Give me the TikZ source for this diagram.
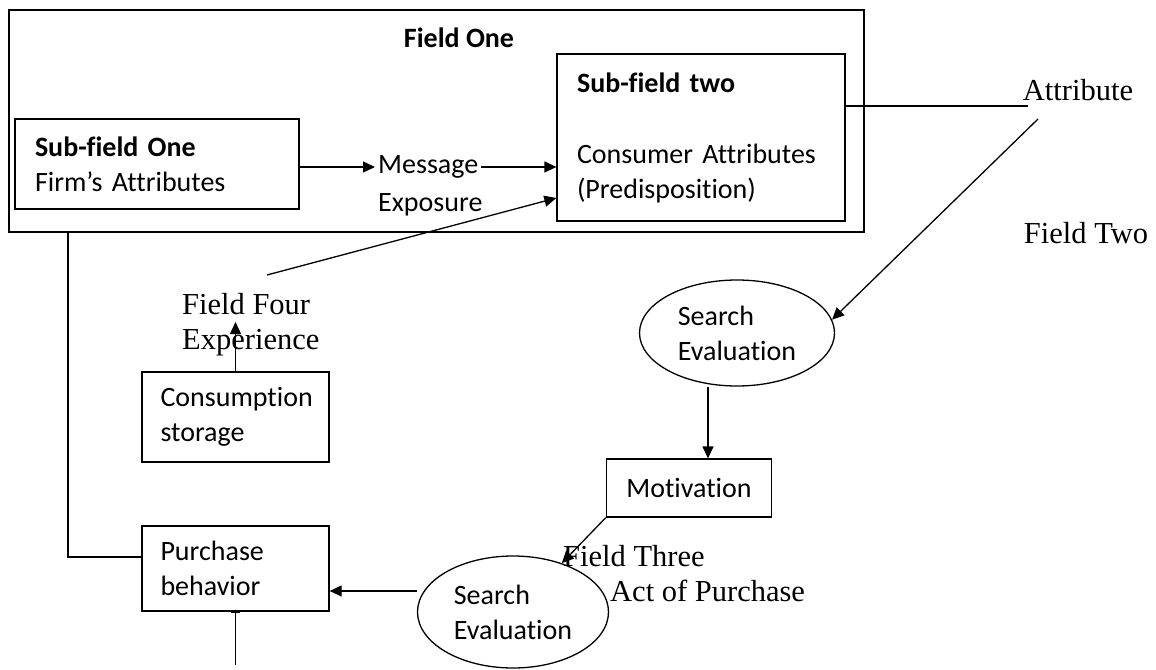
\documentclass[tikz,border=0pt]{standalone}
\usepackage{fontspec}
\setmainfont{Liberation Serif}
\newfontfamily\calibri[Ligatures=NoCommon]{Carlito}
\usetikzlibrary{shapes.geometric,arrows.meta}
\hyphenpenalty=10000
\exhyphenpenalty=10000

\begin{document}
\begin{tikzpicture}[x=1pt,y=-1pt]
		\tikzset{box/.style = {draw, line width=1.3pt, inner xsep=20pt, inner ysep=0pt, align=left, font=\calibri\fontsize{28}{35}\selectfont},
		oval/.style = {ellipse, draw, line width=1.3pt, inner sep=0pt, align=left, font=\calibri\fontsize{28}{35}\selectfont},
		txt/.style = {inner sep=3pt, font=\calibri\fontsize{28}{35}\selectfont},
		tag/.style = {inner sep=0pt, align=left, font=\fontsize{30.5}{35}\selectfont},
		arr/.style = {line width=1.3pt, -{Triangle[length=12pt,width=11pt]}},
		link/.style = {line width=1.3pt}}

		\useasboundingbox (0,0) rectangle (1156,669);

		\node[draw, line width=1.3pt, minimum width=855pt, minimum height=222pt] (fieldone) at (436.5,121) {};
		\node[txt] (fieldonelbl) at (459,38) {\textbf{Field One}};

		\node[box, text width=244pt, minimum height=90pt] (subone) at (157,164) {\textbf{Sub-field One}\\Firm’s Attributes};
		\node[box, text width=248pt, minimum height=167pt] (subtwo) at (701,137.5) {\textbf{Sub-field two}\\[36pt]Consumer Attributes\\(Predisposition)};

		\node[txt, anchor=west] (msg) at (375,167) {Message};
		\node[txt, anchor=west] (expo) at (375,205) {Exposure};

		\node[box, text width=150pt, inner xsep=18.5pt, minimum height=90pt] (cons) at (235.5,417) {Consumption\\storage};
		\node[box, text width=150pt, inner xsep=18.5pt, minimum height=85pt] (purchase) at (235.5,568.5) {Purchase\\behavior};
		\node[box, minimum width=164pt, minimum height=58pt] (motiv) at (689,488) {Motivation};

		\node[oval, minimum width=195pt, minimum height=106pt] (srch1) at (737,333) {Search\\Evaluation};
		\node[oval, minimum width=191pt, minimum height=112pt] (srch2) at (513,612) {Search\\Evaluation};

		\node[tag] (attr) at (1078,90) {Attribute};
		\node[tag] (fieldtwo) at (1086,233) {Field Two};
		\node[tag, anchor=west] (fieldthree) at (563,556) {Field Three};
		\node[tag, anchor=west] (actpurch) at (610,591) {Act of Purchase};
		\node[tag, anchor=west] (fieldfour) at (182,325) {Field Four\\Experience};

		\coordinate (ffout) at (267,275);
		\coordinate (ffin) at (235.5,322);
		\coordinate (attrin) at (1028,106);
		\coordinate (attrout) at (1038,119);
		\coordinate (drop) at (68,232);
		\coordinate (pbin) at (235.5,665);

		\draw[arr] (subone.east |- msg.west) -- (msg.west);
		\draw[arr] (msg.east) -- (msg.east -| subtwo.west);
		\draw[arr] (ffout) -- ([yshift=-60.5pt]subtwo.west);
		\draw[link] ([yshift=31.5pt]subtwo.east) -- (attrin);
		\draw[arr] (attrout) -- (srch1.8);
		\draw[arr] ([xshift=-29pt]srch1.south) -- ([xshift=-29pt]srch1.south |- motiv.north);
		\draw[arr] (motiv.south west) -- (srch2.45);
		\draw[arr] ([yshift=21pt]srch2.west) -- ([yshift=21pt]srch2.west -| purchase.east);
		\draw[arr] (cons.north) -- (ffin);
		\draw[link] (drop) |- ([yshift=11.5pt]purchase.west);
		\draw[link, -{Bar[width=9pt]}] (pbin) -- (purchase.south);

	\end{tikzpicture}
\end{document}
